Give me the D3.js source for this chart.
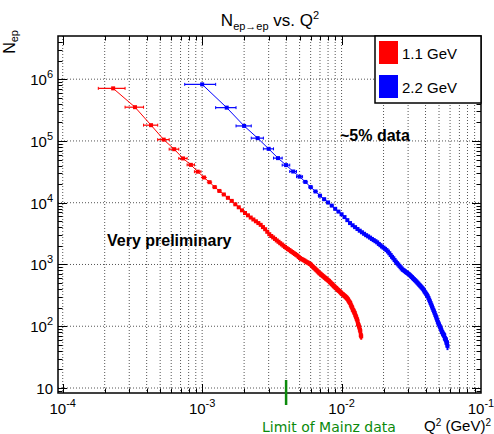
<!DOCTYPE html>
<html><head><meta charset="utf-8">
<script src="https://cdn.jsdelivr.net/npm/d3@7"></script>
<style>body{margin:0;background:#fff}svg{display:block}</style>
</head><body><svg id="c" width="494" height="434"></svg>
<script>
// ---------------- data ----------------
const seriesNames = ["1.1 GeV", "2.2 GeV"];
const seriesColors = ["#ff0000", "#0000ff"];
// histogram bins: first bin centre and bin width in Q^2 (GeV^2)
const redStart = 0.00023, redWidth = 0.0001;
const redCounts = [710000,352000,180000,105000,73500,52100,41000,31800,25600,21500,
 17900,15500,13600,12000,10700,9420,8430,7530,6810,6250,
 5750,5350,5000,4680,4380,4030,3720,3380,3090,2890,
 2740,2590,2450,2330,2210,2110,2010,1920,1840,1770,
 1710,1640,1590,1530,1480,1430,1385,1320,1270,1232,
 1210,1180,1150,1120,1090,1070,1045,1020,992,948,
 918,885,859,828,804,776,750,722,710,689,
 671,653,637,621,605,589,577,564,550,541,
 522,508,494,482,468,456,444,435,423,416,
 405,395,386,378,372,363,355,347,336,333,
 327,320,314,309,303,296,291,284,277,270,
 259,251,244,238,224,215,206,199,186,182,
 175,167,163,153,146,140,132,128,120,109,
 105,99.5,95,87.7,83,72,68.7];
const blueStart = 0.0010, blueWidth = 0.0005;
const blueCounts = [824000,346000,175000,111000,74500,52700,40600,32000,26400,21700,
 17900,15200,13000,11400,10100,8970,7960,7180,6490,5850,
 5220,4680,4310,4020,3750,3520,3320,3140,2980,2850,
 2720,2590,2480,2380,2280,2150,2050,1950,1870,1790,
 1710,1620,1520,1420,1330,1260,1180,1110,1050,1000,
 948,902,859,820,800,776,750,731,710,692,
 668,644,624,600,581,561,543,525,506,489,
 471,456,441,426,412,397,379,361,348,332,
 318,305,287,269,253,237,223,209,196,184,
 174,164,153,144,135,127,118,112,107,101,
 96,91,86,81,79,74,73,71,64,62,
 61,54,55,48];
const xTickExps = [-4, -3, -2, -1];
const yTickExps = [1, 2, 3, 4, 5, 6];
const mainzLimit = 0.004;

// ---------------- layout ----------------
const L = 58, R = 481, T = 36, B = 393;
const svg = d3.select("#c");
const x = d3.scaleLog().domain([9.25e-5, 0.1]).range([L, R]);
const y = d3.scaleLog().domain([8.3, 5.0e6]).range([B, T]);
const FONT = "'Liberation Sans', Arial, Helvetica, sans-serif";

// grid
const isMajor = v => Math.abs(Math.log10(v) - Math.round(Math.log10(v))) < 1e-6;
const xt = x.ticks().filter(v => x(v) > L + 1 && x(v) < R - 1);
const yt = y.ticks();
svg.append("g").selectAll("line").data(xt).join("line")
  .attr("x1", d => x(d)).attr("x2", d => x(d)).attr("y1", T).attr("y2", B)
  .attr("stroke", "#555").attr("stroke-width", 1).attr("stroke-dasharray", "1,2");
svg.append("g").selectAll("line").data(yt.filter(isMajor)).join("line")
  .attr("y1", d => y(d)).attr("y2", d => y(d)).attr("x1", L).attr("x2", R)
  .attr("stroke", "#555").attr("stroke-width", 1).attr("stroke-dasharray", "1,2");

// ticks on all four sides (inside)
const tk = svg.append("g").attr("stroke", "#000").attr("stroke-width", 1);
xt.forEach(v => {
  const len = isMajor(v) ? 9 : 4.5, px = Math.round(x(v)) + 0.5;
  tk.append("line").attr("x1", px).attr("x2", px).attr("y1", B).attr("y2", B - len);
  tk.append("line").attr("x1", px).attr("x2", px).attr("y1", T).attr("y2", T + len);
});
yt.filter(v => y(v) > T + 0.5 && y(v) < B - 0.5).forEach(v => {
  const len = isMajor(v) ? 9 : 4.5, py = Math.round(y(v)) + 0.5;
  tk.append("line").attr("y1", py).attr("y2", py).attr("x1", L).attr("x2", L + len);
  tk.append("line").attr("y1", py).attr("y2", py).attr("x1", R).attr("x2", R - len);
});

// data
function drawSeries(start, width, counts, color) {
  const pts = counts.map((n, i) => ({ q: start + i * width, n: n, w: width }));
  const g = svg.append("g");
  g.append("path").datum(pts)
    .attr("d", d3.line().x(d => x(d.q)).y(d => y(d.n)))
    .attr("fill", "none").attr("stroke", color).attr("stroke-width", 1);
  g.selectAll("line.h").data(pts).join("line").attr("class", "h")
    .attr("x1", d => x(d.q - d.w / 2)).attr("x2", d => x(d.q + d.w / 2))
    .attr("y1", d => y(d.n)).attr("y2", d => y(d.n))
    .attr("stroke", color).attr("stroke-width", 1.2);
  const wide = pts.filter(d => x(d.q + d.w / 2) - x(d.q - d.w / 2) > 6);
  g.selectAll("line.c1").data(wide).join("line").attr("class", "c1")
    .attr("x1", d => x(d.q - d.w / 2)).attr("x2", d => x(d.q - d.w / 2))
    .attr("y1", d => y(d.n) - 1.5).attr("y2", d => y(d.n) + 1.5)
    .attr("stroke", color).attr("stroke-width", 1);
  g.selectAll("line.c2").data(wide).join("line").attr("class", "c2")
    .attr("x1", d => x(d.q + d.w / 2)).attr("x2", d => x(d.q + d.w / 2))
    .attr("y1", d => y(d.n) - 1.5).attr("y2", d => y(d.n) + 1.5)
    .attr("stroke", color).attr("stroke-width", 1);
  g.selectAll("line.v").data(pts).join("line").attr("class", "v")
    .attr("x1", d => x(d.q)).attr("x2", d => x(d.q))
    .attr("y1", d => y(d.n - Math.sqrt(d.n))).attr("y2", d => y(d.n + Math.sqrt(d.n)))
    .attr("stroke", color).attr("stroke-width", 2);
  g.selectAll("rect").data(pts).join("rect")
    .attr("x", d => x(d.q) - 2).attr("y", d => y(d.n) - 2)
    .attr("width", 4).attr("height", 4).attr("fill", color);
}
drawSeries(redStart, redWidth, redCounts, seriesColors[0]);
drawSeries(blueStart, blueWidth, blueCounts, seriesColors[1]);

// frame
svg.append("rect").attr("x", L).attr("y", T).attr("width", R - L).attr("height", B - T)
  .attr("fill", "none").attr("stroke", "#000").attr("stroke-width", 1.5);

// tick labels
const yl = svg.append("g").attr("font-family", FONT).attr("fill", "#000");
yTickExps.forEach(e => {
  const t = yl.append("text").attr("x", 53).attr("y", y(Math.pow(10, e)) + 6)
    .attr("text-anchor", "end").attr("font-size", 15);
  t.append("tspan").text("10");
  if (e !== 1) t.append("tspan").attr("font-size", 11).attr("dy", -7).text(e);
});
const xl = svg.append("g").attr("font-family", FONT).attr("fill", "#000");
xTickExps.forEach(e => {
  const t = xl.append("text").attr("x", x(Math.pow(10, e))).attr("y", 414)
    .attr("text-anchor", "middle").attr("font-size", 15);
  t.append("tspan").text("10");
  t.append("tspan").attr("font-size", 11).attr("dy", -7).text("-" + Math.abs(e));
});

// titles
const tt = svg.append("text").attr("x", 270).attr("y", 26).attr("text-anchor", "middle")
  .attr("font-family", FONT).attr("font-size", 17);
tt.append("tspan").text("N");
tt.append("tspan").attr("font-size", 11).attr("dy", 4).text("ep\u2192ep");
tt.append("tspan").attr("dy", -4).text(" vs. Q");
tt.append("tspan").attr("font-size", 11).attr("dy", -7).text("2");

const ytl = svg.append("text").attr("transform", "translate(15,30) rotate(-90)")
  .attr("text-anchor", "end").attr("font-family", FONT).attr("font-size", 16);
ytl.append("tspan").text("N");
ytl.append("tspan").attr("font-size", 11).attr("dy", 3).text("ep");

const xtl = svg.append("text").attr("x", 491).attr("y", 431).attr("text-anchor", "end")
  .attr("font-family", FONT).attr("font-size", 15);
xtl.append("tspan").text("Q");
xtl.append("tspan").attr("font-size", 10).attr("dy", -5).text("2");
xtl.append("tspan").attr("dy", 5).text(" (GeV)");
xtl.append("tspan").attr("font-size", 10).attr("dy", -5).text("2");

// legend
const lg = svg.append("g");
lg.append("rect").attr("x", 375).attr("y", T).attr("width", R - 375).attr("height", 67)
  .attr("fill", "#fff").attr("stroke", "#000").attr("stroke-width", 1.5);
seriesNames.forEach((nm, i) => {
  lg.append("rect").attr("x", 379).attr("y", 41 + i * 34).attr("width", 19).attr("height", 23)
    .attr("fill", seriesColors[i]);
  lg.append("text").attr("x", 402).attr("y", 58.5 + i * 34).attr("font-family", FONT)
    .attr("font-size", 15).text(nm);
});

// annotations
svg.append("text").attr("x", 340).attr("y", 141).attr("font-family", FONT)
  .attr("font-size", 16).attr("font-weight", "bold").text("~5% data");
svg.append("text").attr("x", 107).attr("y", 246).attr("font-family", FONT)
  .attr("font-size", 16).attr("font-weight", "bold").text("Very preliminary");

svg.append("line").attr("x1", x(mainzLimit)).attr("x2", x(mainzLimit)).attr("y1", 380).attr("y2", 405)
  .attr("stroke", "#0b8a0b").attr("stroke-width", 2.5);
svg.append("text").attr("x", 262).attr("y", 432).attr("font-family", "'DejaVu Sans', sans-serif")
  .attr("font-size", 14).attr("fill", "#0b8a0b").text("Limit of Mainz data");
</script></body></html>
